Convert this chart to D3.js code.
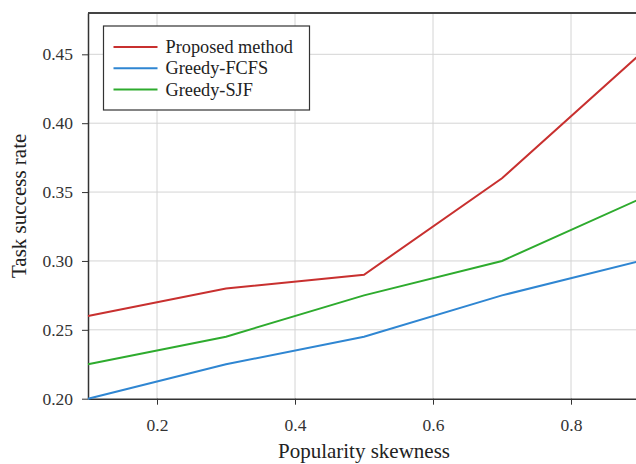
<!DOCTYPE html>
<html lang="en">
<head>
    <meta charset="UTF-8">
    <title>Task success rate</title>
    <script src="https://d3js.org/d3.v7.min.js"></script>
    <style>
        body { margin: 0; background: #fff; overflow: hidden; }
        svg { display: block; }
        .grid line { stroke: #d4d4d4; stroke-width: 1; }
        .axis path, .axis line { stroke: #333; }
    </style>
</head>
<body>
    <script>
        const skewness = [0.1, 0.3, 0.5, 0.7, 0.9];
        const proposed = [0.26, 0.28, 0.29, 0.36, 0.45];
        const greedyFCFS = [0.20, 0.225, 0.245, 0.275, 0.30];
        const greedySJF = [0.225, 0.245, 0.275, 0.30, 0.345];
        const xTicks = [0.2, 0.4, 0.6, 0.8];
        const yTicks = [0.20, 0.25, 0.30, 0.35, 0.40, 0.45];

        const series = [
            { name: "Proposed method", values: proposed, color: "#c8302f" },
            { name: "Greedy-FCFS", values: greedyFCFS, color: "#2f86d2" },
            { name: "Greedy-SJF", values: greedySJF, color: "#2eab2e" }
        ];

        const serif = "'Liberation Serif', 'Times New Roman', serif";
        const width = 636, height = 464;
        const margin = { top: 13, left: 88 };
        const plotRight = 640, plotBottom = 398.7;

        const x = d3.scaleLinear().domain([0.1, 0.9]).range([margin.left, plotRight]);
        const y = d3.scaleLinear().domain([0.20, 0.48]).range([plotBottom, margin.top]);

        const svg = d3.select("body").append("svg")
            .attr("width", width)
            .attr("height", height)
            .style("font-family", serif);

        // grid
        const grid = svg.append("g").attr("class", "grid");
        grid.selectAll(".gx").data(xTicks).join("line")
            .attr("x1", d => x(d)).attr("x2", d => x(d))
            .attr("y1", y.range()[1]).attr("y2", y.range()[0]);
        grid.selectAll(".gy").data(yTicks.slice(1)).join("line")
            .attr("x1", x.range()[0]).attr("x2", x.range()[1])
            .attr("y1", d => y(d)).attr("y2", d => y(d));

        // top border
        svg.append("line")
            .attr("x1", x.range()[0]).attr("x2", x.range()[1])
            .attr("y1", y.range()[1]).attr("y2", y.range()[1])
            .attr("stroke", "#444").attr("stroke-width", 2);

        function styleAxis(g) {
            g.attr("font-family", null).attr("font-size", null);
            g.select(".domain").attr("stroke-width", 1.5);
            g.selectAll("text")
                .style("font-family", serif)
                .style("font-size", "17.5px")
                .attr("fill", "#333");
        }

        svg.append("g").attr("class", "axis")
            .attr("transform", `translate(0,${plotBottom})`)
            .call(d3.axisBottom(x).tickValues(xTicks).tickSize(6).tickSizeOuter(0).tickPadding(14).tickFormat(d3.format(".1f")))
            .call(styleAxis);

        svg.append("g").attr("class", "axis")
            .attr("transform", `translate(${margin.left},0)`)
            .call(d3.axisLeft(y).tickValues(yTicks).tickSize(6).tickSizeOuter(0).tickPadding(9).tickFormat(d3.format(".2f")))
            .call(styleAxis);

        const line = d3.line()
            .x((d, i) => x(skewness[i]))
            .y(d => y(d));

        svg.append("g").selectAll("path").data(series).join("path")
            .attr("fill", "none")
            .attr("stroke", d => d.color)
            .attr("stroke-width", 2)
            .attr("d", d => line(d.values));

        // legend
        const legend = svg.append("g").attr("transform", "translate(103.5,26)");
        legend.append("rect")
            .attr("width", 206).attr("height", 84)
            .attr("fill", "#fff").attr("stroke", "#333").attr("stroke-width", 1.2);
        const rows = legend.selectAll("g").data(series).join("g")
            .attr("transform", (d, i) => `translate(0,${21 + i * 21.3})`);
        rows.append("line")
            .attr("x1", 10).attr("x2", 54)
            .attr("stroke", d => d.color).attr("stroke-width", 2);
        rows.append("text")
            .attr("x", 62).attr("dy", "0.33em")
            .style("font-size", "18.3px").attr("fill", "#222")
            .text(d => d.name);

        svg.append("text")
            .attr("x", (x.range()[0] + x.range()[1]) / 2)
            .attr("y", 458)
            .attr("text-anchor", "middle")
            .style("font-size", "21px").attr("fill", "#222")
            .text("Popularity skewness");

        svg.append("text")
            .attr("transform", `translate(26,${(margin.top + plotBottom) / 2}) rotate(-90)`)
            .attr("text-anchor", "middle")
            .style("font-size", "21px").attr("fill", "#222")
            .text("Task success rate");
    </script>
</body>
</html>
